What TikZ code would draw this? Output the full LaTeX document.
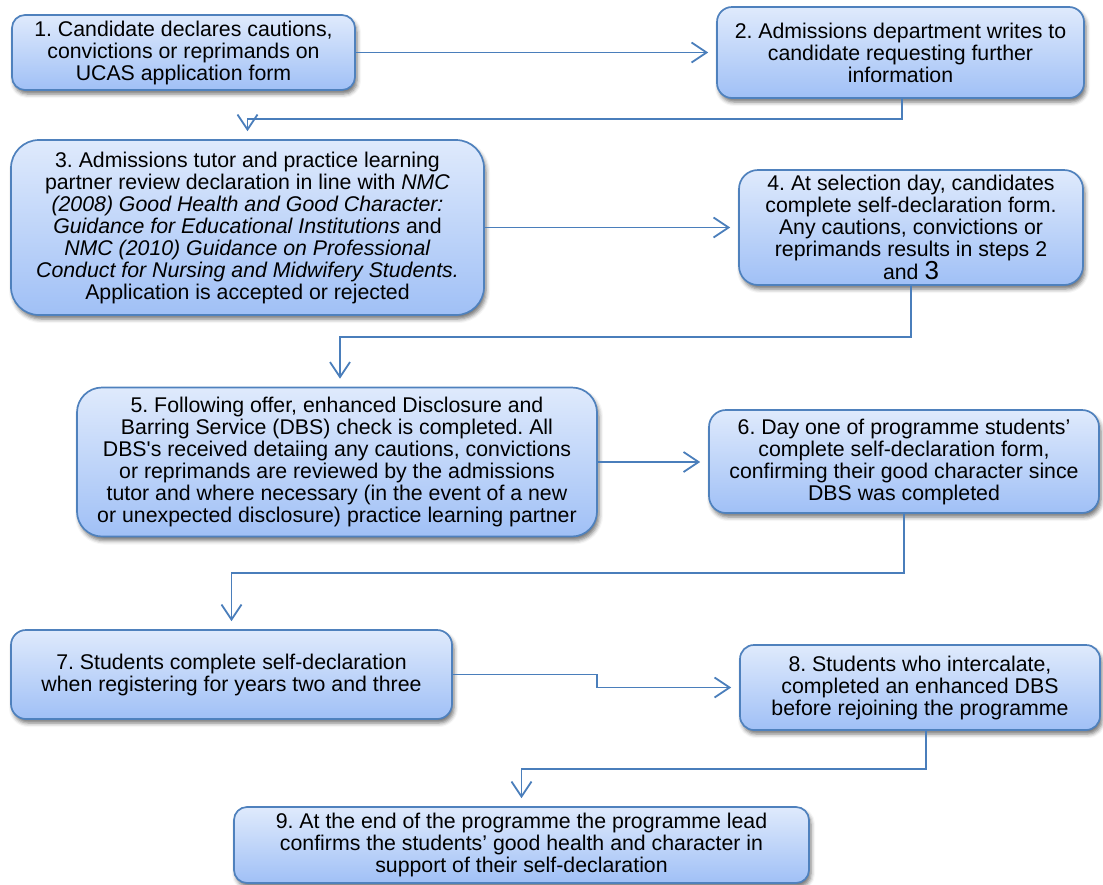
\documentclass[tikz,border=0pt]{standalone}
\usepackage{fontspec}
\setmainfont{Liberation Sans}
\usetikzlibrary{arrows.meta,shadows.blur,calc}
\definecolor{boxtop}{RGB}{223,234,252}
\definecolor{boxbot}{RGB}{160,192,246}
\definecolor{boxline}{RGB}{79,129,189}
\definecolor{conncol}{RGB}{74,126,187}
\frenchspacing
\tikzset{
  stepbox/.style={draw=boxline, line width=1.7pt, top color=boxtop, bottom color=boxbot,
    align=center, inner sep=0pt, font=\fontsize{21.3}{22}\selectfont\frenchspacing,
    blur shadow={shadow xshift=2pt, shadow yshift=-4pt, shadow blur radius=4pt, shadow opacity=55}},
  conn/.style={draw=conncol, line width=1.8pt, -{Straight Barb[length=15pt,width=20pt]}, shorten >=8pt},
}
\begin{document}
\begin{tikzpicture}[x=1pt,y=-1pt]
\useasboundingbox (0,0) rectangle (1103,884);

\node[stepbox, minimum width=343pt, minimum height=75pt, rounded corners=13pt] (b1) at (183.5,52.5)
  {1. Candidate declares cautions,\\convictions or reprimands on\\UCAS application form};
\node[stepbox, minimum width=367pt, minimum height=91pt, rounded corners=15pt] (b2) at (900.5,52.5)
  {2. Admissions department writes to\\candidate requesting further\\information};
\node[stepbox, minimum width=473pt, minimum height=175pt, rounded corners=28pt] (b3) at (247.5,227.5)
  {3. Admissions tutor and practice learning\\
   partner review declaration in line with \textit{NMC}\\
   \textit{(2008) Good Health and Good Character:}\\
   \textit{Guidance for Educational Institutions} and\\
   \textit{NMC (2010) Guidance on Professional}\\
   \textit{Conduct for Nursing and Midwifery Students.}\\
   Application is accepted or rejected};
\node[stepbox, minimum width=344pt, minimum height=115pt, rounded corners=19pt] (b4) at (911,227.5)
  {4. At selection day, candidates\\complete self-declaration form.\\Any cautions, convictions or\\reprimands results in steps 2\\and {\fontsize{26}{22}\selectfont 3}};
\node[stepbox, minimum width=520pt, minimum height=149pt, rounded corners=25pt] (b5) at (337,462)
  {5. Following offer, enhanced Disclosure and\\
   Barring Service (DBS) check is completed. All\\
   DBS\textquotesingle s received detaiing any cautions, convictions\\
   or reprimands are reviewed by the admissions\\
   tutor and where necessary (in the event of a new\\
   or unexpected disclosure) practice learning partner};
\node[stepbox, minimum width=390pt, minimum height=103pt, rounded corners=17pt] (b6) at (904,461.5)
  {6. Day one of programme students’\\complete self-declaration form,\\confirming their good character since\\DBS was completed};
\node[stepbox, minimum width=441pt, minimum height=89pt, rounded corners=15pt] (b7) at (231.5,674.5)
  {7. Students complete self-declaration\\when registering for years two and three};
\node[stepbox, minimum width=360pt, minimum height=85pt, rounded corners=14pt] (b8) at (920,687.5)
  {8. Students who intercalate,\\completed an enhanced DBS\\before rejoining the programme};
\node[stepbox, minimum width=575pt, minimum height=76pt, rounded corners=13pt] (b9) at (521.5,845)
  {9. At the end of the programme the programme lead\\confirms the students’ good health and character in\\support of their self-declaration};

\draw[conn] (b1.east) -- (b1.east -| b2.west);
\draw[conn] ([xshift=1.5pt]b2.south) -- ++(0,20) -| (b3.north);
\draw[conn] (b3.east) -- (b3.east -| b4.west);
\draw[conn] (b4.south) -- ++(0,51) -| ([xshift=3pt]b5.north);
\draw[conn] (b5.east) -- (b5.east -| b6.west);
\draw[conn] (b6.south) -- ++(0,59) -| (b7.north);
\draw[conn] (b7.east) -- ++(144,0) |- (b8.west);
\draw[conn] ([xshift=6pt]b8.south) -- ++(0,38) -| (b9.north);
\end{tikzpicture}
\end{document}
